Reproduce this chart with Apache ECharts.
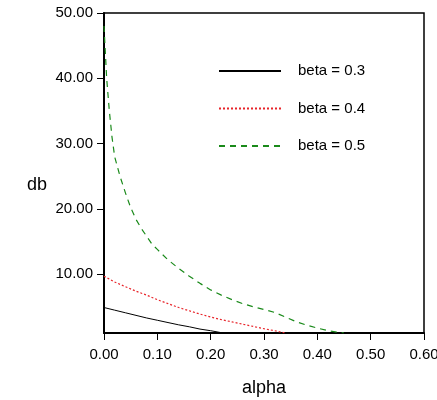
<!DOCTYPE html>
<html><head><meta charset="utf-8">
<script src="https://cdn.jsdelivr.net/npm/echarts@6/dist/echarts.min.js"></script>
<style>html,body{margin:0;padding:0;background:#fff}#c{width:437px;height:400px}</style>
</head><body><div id="c"></div>
<script>
const seriesNames = ['beta = 0.3', 'beta = 0.4', 'beta = 0.5'];
const beta03 = [[0,4.9],[0.02,4.5],[0.04,4.1],[0.06,3.7],[0.08,3.3],[0.10,2.95],[0.12,2.6],[0.14,2.25],[0.16,1.95],[0.18,1.6],[0.20,1.35],[0.22,1.05],[0.225,1.0]];
const beta04 = [[0,9.7],[0.02,8.8],[0.04,8.1],[0.06,7.4],[0.08,6.8],[0.10,6.1],[0.12,5.5],[0.14,4.9],[0.16,4.4],[0.18,3.9],[0.20,3.45],[0.22,3.05],[0.24,2.7],[0.26,2.35],[0.28,2.0],[0.30,1.65],[0.32,1.35],[0.34,1.0]];
const beta05 = [[0,48],[0.005,40],[0.01,35],[0.015,31],[0.02,28],[0.03,25],[0.04,22.5],[0.05,20.2],[0.06,18.4],[0.07,17],[0.08,15.8],[0.09,14.6],[0.10,13.8],[0.12,12.2],[0.14,10.9],[0.16,9.7],[0.18,8.6],[0.20,7.6],[0.22,6.8],[0.24,6.1],[0.26,5.5],[0.28,5.0],[0.30,4.6],[0.32,4.15],[0.34,3.45],[0.36,2.75],[0.38,2.2],[0.40,1.75],[0.42,1.35],[0.44,1.1],[0.45,1.0]];
const yTicks = [10, 20, 30, 40, 50];
const xTitle = 'alpha', yTitle = 'db';

const font = 'Liberation Sans, Arial, sans-serif';
const chart = echarts.init(document.getElementById('c'), null, {renderer: 'canvas'});
chart.setOption({
  animation: false,
  grid: {left: 104, right: 13, top: 13, bottom: 67, show: true, borderColor: '#000', borderWidth: 1.5, backgroundColor: 'transparent', containLabel: false, outerBoundsMode: 'none'},
  xAxis: {
    type: 'value', min: 0, max: 0.6, interval: 0.1,
    name: xTitle, nameLocation: 'middle', nameGap: 46,
    nameTextStyle: {fontFamily: font, fontSize: 18, color: '#000'},
    axisLine: {show: true, onZero: false, lineStyle: {color: '#000', width: 2}},
    axisTick: {show: true, length: 7, lineStyle: {color: '#000', width: 1}},
    axisLabel: {fontFamily: font, fontSize: 15, color: '#000', margin: 14, formatter: v => v.toFixed(2)},
    splitLine: {show: false}
  },
  yAxis: {
    type: 'value', min: 1, max: 50,
    name: yTitle, nameLocation: 'middle', nameRotate: 0, nameGap: 57,
    nameTextStyle: {fontFamily: font, fontSize: 18, color: '#000', verticalAlign: 'top', padding: [3, 0, 0, 0]},
    axisLine: {show: true, onZero: false, lineStyle: {color: '#000', width: 2}},
    axisTick: {show: true, length: 7, customValues: yTicks, lineStyle: {color: '#000', width: 1}},
    axisLabel: {fontFamily: font, fontSize: 15, color: '#000', margin: 11, customValues: yTicks, formatter: v => v.toFixed(2)},
    splitLine: {show: false}
  },
  legend: {
    orient: 'vertical', left: 213, top: 58.5, itemWidth: 62, itemHeight: 14, itemGap: 22.5,
    itemStyle: {opacity: 0},
    textStyle: {fontFamily: font, fontSize: 15, color: '#000', padding: [0, 0, 0, 12]},
    data: seriesNames
  },
  series: [
    {name: seriesNames[0], type: 'line', data: beta03, symbol: 'none', lineStyle: {color: '#000', width: 1, type: 'solid'}, itemStyle: {color: '#000'}},
    {name: seriesNames[1], type: 'line', data: beta04, symbol: 'none', lineStyle: {color: '#e8242a', width: 1.2, type: [2, 2]}, itemStyle: {color: '#e8242a'}},
    {name: seriesNames[2], type: 'line', data: beta05, symbol: 'none', lineStyle: {color: '#1a8a1a', width: 1.2, type: [6, 5]}, itemStyle: {color: '#1a8a1a'}}
  ]
});
</script></body></html>
